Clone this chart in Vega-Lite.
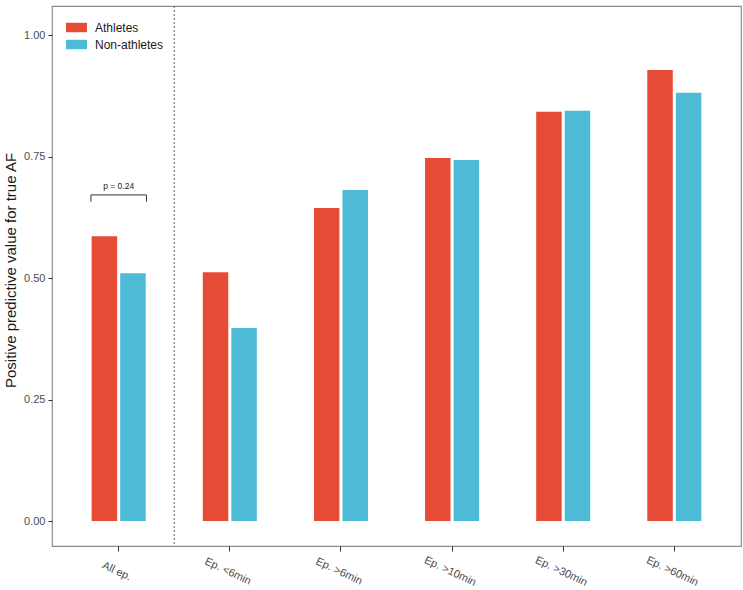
{
  "$schema": "https://vega.github.io/schema/vega-lite/v6.json",
  "autosize": {"type": "none"},
  "width": 689,
  "height": 540,
  "padding": {"left": 52, "top": 6, "right": 2, "bottom": 44},
  "background": "white",
  "config": {
    "font": "Liberation Sans",
    "view": {"stroke": "#8c8c8c", "strokeWidth": 1.2},
    "axis": {"grid": false, "domain": false, "tickColor": "#333333", "tickSize": 4, "labelColor": "#4d4d4d", "labelFontSize": 11, "titleFontWeight": "normal", "titleColor": "#1a1a1a"}
  },
  "datasets": {
    "ppv": [
      {"cat": "All ep.", "group": "Athletes", "value": 0.586},
      {"cat": "All ep.", "group": "Non-athletes", "value": 0.510},
      {"cat": "Ep. <6min", "group": "Athletes", "value": 0.512},
      {"cat": "Ep. <6min", "group": "Non-athletes", "value": 0.397},
      {"cat": "Ep. >6min", "group": "Athletes", "value": 0.644},
      {"cat": "Ep. >6min", "group": "Non-athletes", "value": 0.681},
      {"cat": "Ep. >10min", "group": "Athletes", "value": 0.747},
      {"cat": "Ep. >10min", "group": "Non-athletes", "value": 0.743},
      {"cat": "Ep. >30min", "group": "Athletes", "value": 0.842},
      {"cat": "Ep. >30min", "group": "Non-athletes", "value": 0.844},
      {"cat": "Ep. >60min", "group": "Athletes", "value": 0.928},
      {"cat": "Ep. >60min", "group": "Non-athletes", "value": 0.881}
    ]
  },
  "layer": [
    {
      "data": {"name": "ppv"},
      "mark": {"type": "bar"},
      "encoding": {
        "x": {
          "field": "cat", "type": "nominal",
          "sort": ["All ep.", "Ep. <6min", "Ep. >6min", "Ep. >10min", "Ep. >30min", "Ep. >60min"],
          "scale": {"paddingInner": 0, "paddingOuter": 0.1},
          "axis": {"title": null, "labelAngle": 25, "labelAlign": "center", "labelBaseline": "middle", "tickSize": 5, "labelPadding": 20, "labelOffset": -2}
        },
        "xOffset": {
          "field": "group", "type": "nominal",
          "scale": {"paddingInner": 0.107, "paddingOuter": 1.03}
        },
        "y": {
          "field": "value", "type": "quantitative",
          "title": "Positive predictive value for true AF",
          "scale": {"domain": [-0.0514, 1.0597], "nice": false, "zero": false},
          "axis": {"values": [0, 0.25, 0.5, 0.75, 1], "format": ".2f", "titleFontSize": 15, "titlePadding": 5, "titleY": 264, "labelPadding": 3}
        },
        "y2": {"datum": 0},
        "color": {
          "field": "group", "type": "nominal",
          "scale": {"domain": ["Athletes", "Non-athletes"], "range": ["#E64B35", "#4DBBD5"]},
          "legend": {
            "title": null, "orient": "none", "legendX": 14, "legendY": 11, "padding": 0,
            "symbolType": "M-1,-0.45H1V0.45H-1Z", "symbolSize": 441, "symbolStrokeWidth": 0,
            "labelFontSize": 12, "labelColor": "#1a1a1a", "labelOffset": 8, "rowPadding": 0
          }
        }
      }
    },
    {
      "data": {"values": [{"cat": "All ep."}]},
      "mark": {"type": "rule", "color": "#666666", "strokeDash": [2, 2], "strokeWidth": 1},
      "encoding": {
        "x": {"field": "cat", "type": "nominal", "bandPosition": 1,
          "sort": ["All ep.", "Ep. <6min", "Ep. >6min", "Ep. >10min", "Ep. >30min", "Ep. >60min"]}
      }
    },
    {
      "data": {"values": [{"cat": "All ep.", "value": 0.671}]},
      "mark": {"type": "rule", "color": "#333333", "strokeWidth": 1},
      "encoding": {
        "x": {"field": "cat", "type": "nominal", "bandPosition": 0.25,
          "sort": ["All ep.", "Ep. <6min", "Ep. >6min", "Ep. >10min", "Ep. >30min", "Ep. >60min"]},
        "x2": {"field": "cat", "bandPosition": 0.75},
        "y": {"field": "value", "type": "quantitative", "title": "Positive predictive value for true AF"}
      }
    },
    {
      "data": {"values": [{"cat": "All ep.", "value": 0.671, "end": 0.657}]},
      "mark": {"type": "rule", "color": "#333333", "strokeWidth": 1},
      "encoding": {
        "x": {"field": "cat", "type": "nominal", "bandPosition": 0.25,
          "sort": ["All ep.", "Ep. <6min", "Ep. >6min", "Ep. >10min", "Ep. >30min", "Ep. >60min"]},
        "y": {"field": "value", "type": "quantitative", "title": "Positive predictive value for true AF"},
        "y2": {"field": "end"}
      }
    },
    {
      "data": {"values": [{"cat": "All ep.", "value": 0.671, "end": 0.657}]},
      "mark": {"type": "rule", "color": "#333333", "strokeWidth": 1},
      "encoding": {
        "x": {"field": "cat", "type": "nominal", "bandPosition": 0.75,
          "sort": ["All ep.", "Ep. <6min", "Ep. >6min", "Ep. >10min", "Ep. >30min", "Ep. >60min"]},
        "y": {"field": "value", "type": "quantitative", "title": "Positive predictive value for true AF"},
        "y2": {"field": "end"}
      }
    },
    {
      "data": {"values": [{"cat": "All ep.", "value": 0.689, "label": "p = 0.24"}]},
      "mark": {"type": "text", "fontSize": 8.5, "color": "#1a1a1a", "baseline": "middle"},
      "encoding": {
        "x": {"field": "cat", "type": "nominal",
          "sort": ["All ep.", "Ep. <6min", "Ep. >6min", "Ep. >10min", "Ep. >30min", "Ep. >60min"]},
        "y": {"field": "value", "type": "quantitative", "title": "Positive predictive value for true AF"},
        "text": {"field": "label"}
      }
    }
  ]
}
